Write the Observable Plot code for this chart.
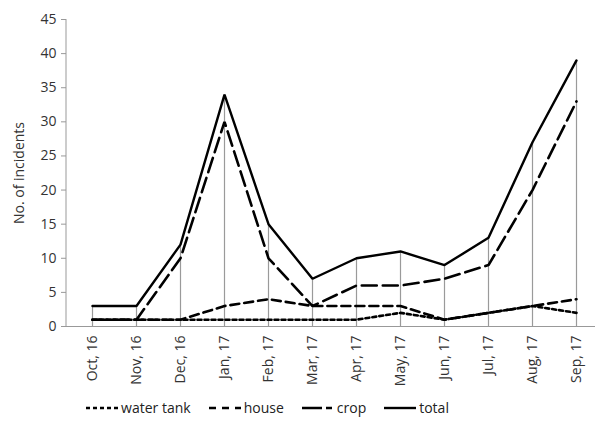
<!DOCTYPE html>
<html>
<head>
<meta charset="utf-8">
<script src="https://cdn.jsdelivr.net/npm/d3@7"></script>
<script src="https://cdn.jsdelivr.net/npm/@observablehq/plot@0.6"></script>
<style>
  body { margin: 0; background: #fff; font-family: "Open Sans", "Noto Sans", sans-serif; }
  #chart { width: 595px; }
  .legend { display: flex; justify-content: center; align-items: center; gap: 18px; font-size: 14px; color: #222; margin-top: 6px; padding-right: 60px; }
  .legend .item { display: flex; align-items: center; }
  .legend svg { display: block; }
</style>
</head>
<body>
<div id="chart"></div>
<script>
const months = ["Oct, 16","Nov, 16","Dec, 16","Jan, 17","Feb, 17","Mar, 17","Apr, 17","May, 17","Jun, 17","Jul, 17","Aug, 17","Sep, 17"];
const waterTank = [1,1,1,1,1,1,1,2,1,2,3,2];
const house     = [1,1,1,3,4,3,3,3,1,2,3,4];
const crop      = [1,1,10,30,10,3,6,6,7,9,20,33];
const total     = [3,3,12,34,15,7,10,11,9,13,27,39];
const yTicks = [0,5,10,15,20,25,30,35,40,45];

const seriesDefs = [
  {name: "water tank", values: waterTank, dash: "4,3", width: 2.6},
  {name: "house", values: house, dash: "9,5", width: 2.6},
  {name: "crop", values: crop, dash: "15,6", width: 2.6},
  {name: "total", values: total, dash: null, width: 2.4}
];

const totals = months.map((m, i) => ({month: m, total: total[i]}));

const lineMarks = seriesDefs.map(s =>
  Plot.line(months.map((m, i) => ({month: m, value: s.values[i]})), {
    x: "month", y: "value", stroke: "#000", strokeWidth: s.width,
    strokeDasharray: s.dash || undefined, strokeLinejoin: "miter"
  })
);

const plot = Plot.plot({
  width: 595,
  height: 392,
  marginLeft: 66,
  marginRight: 0,
  marginTop: 19,
  marginBottom: 66,
  style: {fontFamily: "'Open Sans', 'Noto Sans', sans-serif", fontSize: "14px", color: "#333", background: "#fff"},
  x: {type: "point", domain: months, range: [88, 580], padding: 0},
  y: {domain: [0, 45], ticks: yTicks},
  marks: [
    Plot.ruleX(totals, {x: "month", y1: 0, y2: "total", stroke: "#9a9a9a", strokeWidth: 1.2}),
    Plot.ruleY([0], {stroke: "#999", strokeWidth: 1}),
    Plot.axisY({ticks: yTicks, tickSize: 5, tickPadding: 5, stroke: "#999", fontSize: 14, label: "No. of incidents", labelAnchor: "center", labelArrow: "none", labelOffset: 52}),
    Plot.axisX({tickRotate: -90, tickSize: 0, tickPadding: 9, fontSize: 14, label: null}),
    ...lineMarks
  ]
});

document.getElementById("chart").appendChild(plot);
// y axis line
d3.select(plot).append("line")
  .attr("x1", 66).attr("x2", 66).attr("y1", 19).attr("y2", 326)
  .attr("stroke", "#999");

// Legend
const legend = d3.select("#chart").append("div").attr("class", "legend");
seriesDefs.forEach(s => {
  const item = legend.append("div").attr("class", "item");
  const sv = item.append("svg").attr("width", 32).attr("height", 10);
  sv.append("line").attr("x1", 0).attr("x2", 32).attr("y1", 5).attr("y2", 5)
    .attr("stroke", "#000").attr("stroke-width", s.width)
    .attr("stroke-dasharray", s.name === "crop" ? "20,4,6,2" : (s.name === "house" ? "7,6" : s.dash));
  item.append("span").text(s.name).style("margin-left", "3px");
});
</script>
</body>
</html>
